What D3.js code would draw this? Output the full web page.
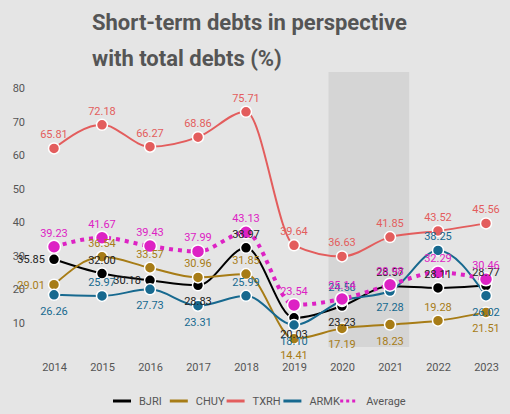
<!DOCTYPE html>
<html><head><meta charset="utf-8">
<script src="https://cdn.jsdelivr.net/npm/d3@7"></script>
<style>body{margin:0;background:#e5e5e5;font-family:Roboto,sans-serif}</style>
</head><body>
<script>
const years = [2014,2015,2016,2017,2018,2019,2020,2021,2022,2023];
const bjri = [35.85,32.00,30.18,28.83,38.97,20.03,23.23,28.57,28.11,28.77];
const chuy = [29.01,36.54,33.57,30.96,31.85,14.41,17.19,18.23,19.28,21.51];
const txrh = [65.81,72.18,66.27,68.86,75.71,39.64,36.63,41.85,43.52,45.56];
const armk = [26.26,25.97,27.73,23.31,25.99,18.10,24.58,27.28,38.25,26.02];
const average = [39.23,41.67,39.43,37.99,43.13,23.54,25.14,28.98,32.29,30.46];
const yTicks = [10,20,30,40,50,60,70,80];

const series = [
  {name:"BJRI", values:bjri, color:"#000000", left:[0,2], below:[3,5,6]},
  {name:"CHUY", values:chuy, color:"#a77c16", left:[0], below:[5,6,7,9]},
  {name:"TXRH", values:txrh, color:"#e35d5d", left:[], below:[]},
  {name:"ARMK", values:armk, color:"#17698f", left:[], below:[0,2,3,5,7,9]},
  {name:"Average", values:average, color:"#dd22c4", left:[], below:[], dotted:true}
];

const W = 510, H = 414;
const svg = d3.select("body").append("svg").attr("width", W).attr("height", H);

svg.append("text").attr("x", 92).attr("y", 30).attr("fill", "#555")
  .attr("font-size", 22).attr("font-weight", "bold").text("Short-term debts in perspective");
svg.append("text").attr("x", 92).attr("y", 66).attr("fill", "#555")
  .attr("font-size", 22).attr("font-weight", "bold").text("with total debts (%)");

var x = d3.scaleLinear().domain([2014, 2023]).range([54, 486]);
var y = d3.scaleLinear().domain([12.7, 87]).range([345, 70]);
// tick labels sit at their own positions in the original chart
var yAxisScale = d3.scaleLinear().domain([10, 80]).range([322.5, 88]);

svg.append("rect").attr("x", x(2019.72)).attr("y", 72)
  .attr("width", x(2021.4) - x(2019.72)).attr("height", 275).attr("fill", "#d5d5d5");

svg.append("g").attr("transform", "translate(28,0)")
  .call(d3.axisLeft(yAxisScale).tickValues(yTicks).tickSize(0))
  .call(g => g.select(".domain").remove())
  .selectAll("text").attr("fill", "#555").attr("font-size", 11).attr("font-family", "Roboto");

svg.append("g").attr("transform", "translate(0,360)")
  .call(d3.axisBottom(x).tickValues(years).tickFormat(d3.format("d")).tickSize(0))
  .call(g => g.select(".domain").remove())
  .selectAll("text").attr("fill", "#555").attr("font-size", 11).attr("font-family", "Roboto");

var line = d3.line().x((d, i) => x(years[i])).y(d => y(d)).curve(d3.curveMonotoneX);

series.forEach(function(s) {
  svg.append("path").attr("d", line(s.values)).attr("fill", "none")
    .attr("stroke", s.color).attr("stroke-width", s.dotted ? 4 : 2)
    .attr("stroke-dasharray", s.dotted ? "4,5" : null);
});

series.forEach(function(s) {
  svg.selectAll(null).data(s.values).enter().append("circle")
    .attr("cx", (d, i) => x(years[i])).attr("cy", d => y(d))
    .attr("r", s.dotted ? 6.5 : 5.5).attr("fill", s.color)
    .attr("stroke", "#fff").attr("stroke-width", 1.5);
});

series.forEach(function(s) {
  svg.selectAll(null).data(s.values).enter().append("text")
    .attr("x", (d, i) => s.left.includes(i) ? x(years[i]) - 9 : x(years[i]))
    .attr("y", (d, i) => s.left.includes(i) ? y(d) + 4 : s.below.includes(i) ? y(d) + 20 : y(d) - 10)
    .attr("text-anchor", (d, i) => s.left.includes(i) ? "end" : "middle")
    .attr("font-size", 11).attr("fill", s.color === "#000000" ? "#222" : s.color)
    .text(d => d.toFixed(2));
});

var legend = svg.append("g").attr("transform", "translate(113,401)");
var lx = 0;
series.forEach(function(s) {
  var item = legend.append("g").attr("transform", "translate(" + lx + ",0)");
  item.append("line").attr("x1", 0).attr("x2", 18).attr("y1", 0).attr("y2", 0)
    .attr("stroke", s.color).attr("stroke-width", 3)
    .attr("stroke-dasharray", s.dotted ? "3,3" : null);
  item.append("text").attr("x", 26).attr("y", 4).attr("font-size", 11)
    .attr("fill", "#555").text(s.name);
  lx += 28 + s.name.length * 7.2;
});
</script>
</body></html>
